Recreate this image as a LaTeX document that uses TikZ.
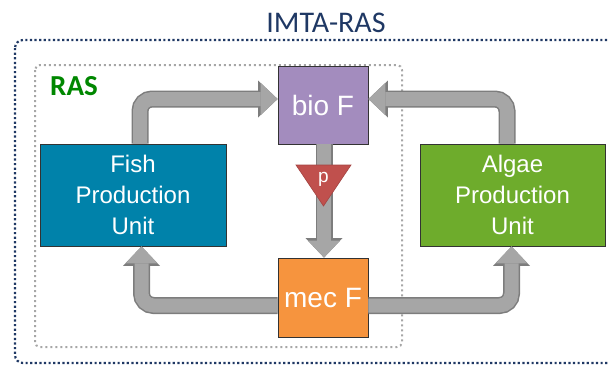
\documentclass[tikz,border=0pt]{standalone}
\usepackage{fontspec}
\setmainfont{Liberation Sans}
\newfontfamily\titlefont{Carlito}
\usetikzlibrary{arrows.meta}

\definecolor{fishblue}{RGB}{0,130,170}
\definecolor{algaegreen}{RGB}{110,172,44}
\definecolor{biopurple}{RGB}{163,140,190}
\definecolor{mecorange}{RGB}{246,148,62}
\definecolor{valvered}{RGB}{192,80,77}
\definecolor{flowgray}{RGB}{166,166,166}
\definecolor{flowedge}{RGB}{125,125,125}
\definecolor{imtanavy}{RGB}{31,56,100}
\definecolor{rasgreen}{RGB}{0,135,0}

\tikzset{
    unit/.style={draw=black!80, line width=0.8pt, text=white, align=center,
        inner sep=0pt, font=\fontsize{24}{31}\selectfont},
    filterbox/.style={unit, minimum width=90pt, font=\fontsize{28}{32}\selectfont},
    flow/.style={draw=flowgray, line width=14pt, rounded corners=12pt,
        -{Triangle[width=32pt,length=17pt,line width=0pt]},
        preaction={draw=flowedge, line width=17pt,
            -{Triangle[width=37pt,length=19.5pt,line width=0pt]}}},
}

\begin{document}
\begin{tikzpicture}[x=1pt,y=-1pt]
    \useasboundingbox (0,0) rectangle (608,365);

    % system borders
    \draw[imtanavy, line width=2.2pt, dash pattern=on 2.2pt off 2.4pt, rounded corners=8pt]
        (15,40) rectangle (616,363);
    \draw[black!35, line width=2pt, dash pattern=on 2pt off 3pt, rounded corners=5pt]
        (35,65) rectangle (402,347);
    \node[imtanavy, font=\titlefont\fontsize{30}{32}\selectfont] (imta) at (326,23) {IMTA-RAS};
    \node[rasgreen, font=\titlefont\bfseries\fontsize{29}{32}\selectfont] (ras) at (74,86) {RAS};

    % units
    \node[unit, fill=fishblue, minimum width=186pt, minimum height=102pt] (fish) at (133,195)
        {Fish\\Production\\Unit};
    \node[unit, fill=algaegreen, minimum width=185pt, minimum height=102pt] (algae) at (512.5,195)
        {Algae\\Production\\Unit};
    \node[filterbox, fill=biopurple, minimum height=78pt] (bio) at (323,105) {bio F};
    \node[filterbox, fill=mecorange, minimum height=79pt] (mec) at (323,297.5) {mec F};

    % flows
    \draw[flow] ([xshift=7pt]fish.north) |- ([yshift=6pt]bio.west);
    \draw[flow] ([xshift=-5.5pt]algae.north) |- ([yshift=6pt]bio.east);
    \draw[flow] ([xshift=1pt]bio.south) -- ([xshift=1pt]mec.north);
    \draw[flow] ([yshift=-8pt]mec.west) -| ([xshift=8.5pt]fish.south);
    \draw[flow] ([yshift=-8pt]mec.east) -| ([xshift=-1pt]algae.south);

    % pump
    \coordinate (ptip) at (323.5,206);
    \draw[valvered!85!black, fill=valvered, line width=0.6pt] (296,165) -- (351,165) -- (ptip) -- cycle;
    \node[text=white, font=\fontsize{19}{20}\selectfont] (pump) at (323.5,179) {p};
\end{tikzpicture}
\end{document}
